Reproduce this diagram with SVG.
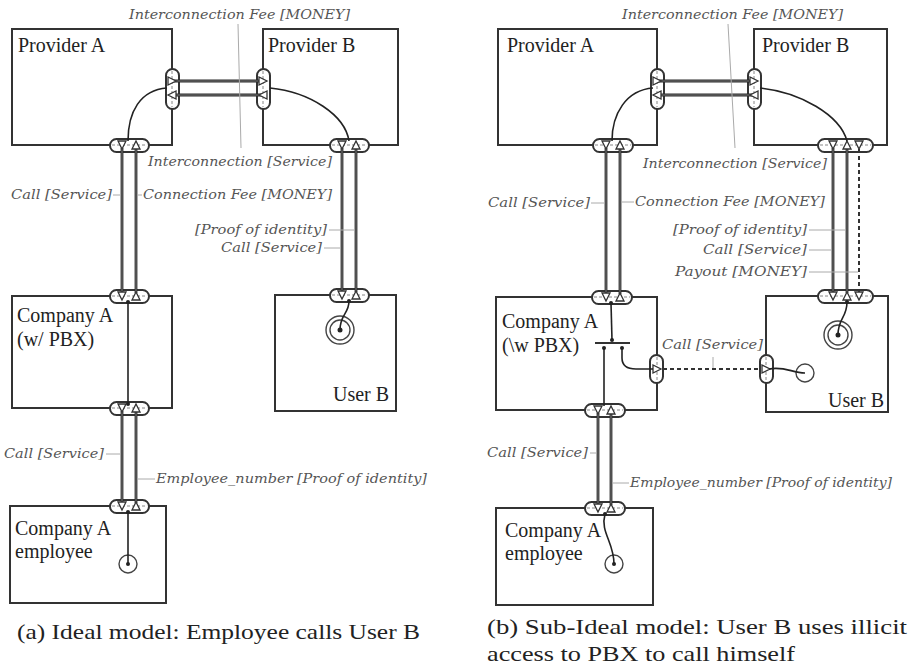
<svg xmlns="http://www.w3.org/2000/svg" xmlns:xlink="http://www.w3.org/1999/xlink" width="909" height="668" viewBox="0 0 909 668">
<style>
.box{fill:#fff;stroke:#333;stroke-width:2}
.pill{fill:#fff;stroke:#333;stroke-width:2}
.edge{stroke:#888;stroke-width:1;stroke-dasharray:3 2;fill:none}
.nt{font-family:"Liberation Serif",serif;font-size:20px;fill:#222}
.lb{font-family:"DejaVu Serif",serif;font-style:italic;font-size:13px;fill:#555}
.cap{font-family:"Liberation Serif",serif;font-size:21px;fill:#222}
.ld{stroke:#aaa;stroke-width:1;fill:none}
.vt{stroke:#2a2a2a;stroke-width:2.8;fill:none}
.vti{stroke:#999;stroke-width:0.7;fill:none}
.vd{stroke:#333;stroke-width:2;stroke-dasharray:4 3;fill:none}
.cn{stroke:#222;stroke-width:1.6;fill:none}
.dot{fill:#222}
.stim{fill:#fff;stroke:#444;stroke-width:1.4}
.tri{fill:#fff;stroke:#333;stroke-width:1.3}
</style>
<defs>
<path id="td" class="tri" d="M-4,-4 L4,-4 L0,4 Z"/>
</defs>

<!-- ===================== (a) ===================== -->
<g id="a-provider-a">
<rect class="box" x="12" y="29" width="160" height="116"/>
<text class="nt" x="18" y="52">Provider A</text>
<rect class="pill" x="166" y="69" width="13" height="40" rx="6.5"/>
<line class="edge" x1="172" y1="71" x2="172" y2="107"/>
<rect class="pill" x="110" y="139" width="39" height="13" rx="6.5"/>
<line class="edge" x1="112" y1="145" x2="147" y2="145"/>
</g>
<g id="a-provider-b">
<rect class="box" x="263" y="29" width="135" height="116"/>
<text class="nt" x="268" y="52">Provider B</text>
<rect class="pill" x="257" y="69" width="13" height="40" rx="6.5"/>
<line class="edge" x1="263" y1="71" x2="263" y2="107"/>
<rect class="pill" x="330" y="139" width="39" height="13" rx="6.5"/>
<line class="edge" x1="332" y1="145" x2="367" y2="145"/>
</g>
<g id="a-company-a">
<rect class="box" x="12" y="296" width="160" height="112"/>
<text class="nt" x="17" y="322">Company A</text>
<text class="nt" x="17" y="346">(w/ PBX)</text>
<rect class="pill" x="110" y="290" width="39" height="13" rx="6.5"/>
<line class="edge" x1="112" y1="296" x2="147" y2="296"/>
<rect class="pill" x="110" y="402" width="39" height="13" rx="6.5"/>
<line class="edge" x1="112" y1="408" x2="147" y2="408"/>
</g>
<g id="a-user-b">
<rect class="box" x="275" y="295" width="121" height="116"/>
<text class="nt" x="333" y="401">User B</text>
<rect class="pill" x="330" y="289" width="39" height="13" rx="6.5"/>
<line class="edge" x1="332" y1="295" x2="367" y2="295"/>
<circle class="stim" cx="340" cy="330" r="14"/>
<circle class="stim" cx="340" cy="330" r="10"/>
</g>
<g id="a-employee">
<rect class="box" x="10" y="506" width="156" height="97"/>
<text class="nt" x="15" y="535">Company A</text>
<text class="nt" x="15" y="558">employee</text>
<rect class="pill" x="110" y="500" width="39" height="13" rx="6.5"/>
<line class="edge" x1="112" y1="506" x2="147" y2="506"/>
<circle class="stim" cx="128" cy="564" r="9"/>
</g>

<g id="a-connectors">
<path class="vt" d="M172,81 H262 M172,95 H262 M122,148 V293 M136,148 V293 M342,148 V292 M356,148 V292 M122,411 V503 M136,411 V503"/>
<path class="vti" d="M172,81 H262 M172,95 H262 M122,148 V293 M136,148 V293 M342,148 V292 M356,148 V292 M122,411 V503 M136,411 V503"/>
<use href="#td" xlink:href="#td" transform="translate(172,81) rotate(-90)"/>
<use href="#td" xlink:href="#td" transform="translate(263,81) rotate(-90)"/>
<use href="#td" xlink:href="#td" transform="translate(172,95) rotate(90)"/>
<use href="#td" xlink:href="#td" transform="translate(263,95) rotate(90)"/>
<use href="#td" xlink:href="#td" transform="translate(122,145)"/>
<use href="#td" xlink:href="#td" transform="translate(136,145) rotate(180)"/>
<use href="#td" xlink:href="#td" transform="translate(122,296)"/>
<use href="#td" xlink:href="#td" transform="translate(136,296) rotate(180)"/>
<use href="#td" xlink:href="#td" transform="translate(342,145)"/>
<use href="#td" xlink:href="#td" transform="translate(356,145) rotate(180)"/>
<use href="#td" xlink:href="#td" transform="translate(342,295)"/>
<use href="#td" xlink:href="#td" transform="translate(356,295) rotate(180)"/>
<use href="#td" xlink:href="#td" transform="translate(122,408)"/>
<use href="#td" xlink:href="#td" transform="translate(136,408) rotate(180)"/>
<use href="#td" xlink:href="#td" transform="translate(122,506)"/>
<use href="#td" xlink:href="#td" transform="translate(136,506) rotate(180)"/>
<path class="cn" d="M167,88 C140,90 128,112 128,141"/>
<path class="cn" d="M270,88 C310,92 345,115 349,141"/>
<path class="cn" d="M128,302 V404"/>
<circle class="dot" cx="128" cy="302" r="2"/>
<circle class="dot" cx="128" cy="404" r="2"/>
<path class="cn" d="M349,301 C349,314 340,314 340,330"/>
<circle class="dot" cx="349" cy="301" r="2"/>
<circle class="dot" cx="340" cy="330" r="2.5"/>
<path class="cn" d="M128,512 V564"/>
<circle class="dot" cx="128" cy="512" r="2"/>
<circle class="dot" cx="128" cy="564" r="2"/>
<path class="ld" d="M238,24 L241,148 M113,195 H121 M137,195 H142 M329,230 H355 M324,248 H341 M106,454 H121 M137,479 H155"/>
</g>

<g id="a-labels">
<text class="lb" x="129" y="19" textLength="221" lengthAdjust="spacingAndGlyphs">Interconnection Fee [MONEY]</text>
<text class="lb" x="148" y="166" textLength="184" lengthAdjust="spacingAndGlyphs">Interconnection [Service]</text>
<text class="lb" x="11" y="199" textLength="101" lengthAdjust="spacingAndGlyphs">Call [Service]</text>
<text class="lb" x="143" y="199" textLength="189" lengthAdjust="spacingAndGlyphs">Connection Fee [MONEY]</text>
<text class="lb" x="195" y="234" textLength="132" lengthAdjust="spacingAndGlyphs">[Proof of identity]</text>
<text class="lb" x="221" y="252" textLength="101" lengthAdjust="spacingAndGlyphs">Call [Service]</text>
<text class="lb" x="4" y="458" textLength="100" lengthAdjust="spacingAndGlyphs">Call [Service]</text>
<text class="lb" x="156" y="483" textLength="271" lengthAdjust="spacingAndGlyphs">Employee_number [Proof of identity]</text>
</g>
<text class="cap" x="17" y="639" textLength="403" lengthAdjust="spacingAndGlyphs">(a) Ideal model: Employee calls User B</text>

<!-- ===================== (b) ===================== -->
<g id="b-provider-a">
<rect class="box" x="498" y="29" width="159" height="116"/>
<text class="nt" x="507" y="52">Provider A</text>
<rect class="pill" x="651" y="69" width="13" height="40" rx="6.5"/>
<line class="edge" x1="657" y1="71" x2="657" y2="107"/>
<rect class="pill" x="593" y="139" width="40" height="13" rx="6.5"/>
<line class="edge" x1="595" y1="145" x2="631" y2="145"/>
</g>
<g id="b-provider-b">
<rect class="box" x="754" y="29" width="133" height="116"/>
<text class="nt" x="762" y="52">Provider B</text>
<rect class="pill" x="748" y="69" width="13" height="40" rx="6.5"/>
<line class="edge" x1="754" y1="71" x2="754" y2="107"/>
<rect class="pill" x="818" y="139" width="55" height="13" rx="6.5"/>
<line class="edge" x1="820" y1="145" x2="871" y2="145"/>
</g>
<g id="b-company-a">
<rect class="box" x="496" y="297" width="161" height="113"/>
<text class="nt" x="502" y="328">Company A</text>
<text class="nt" x="502" y="352">(\w PBX)</text>
<rect class="pill" x="592" y="291" width="40" height="13" rx="6.5"/>
<line class="edge" x1="594" y1="297" x2="630" y2="297"/>
<rect class="pill" x="650" y="355" width="13" height="28" rx="6.5"/>
<line class="edge" x1="657" y1="357" x2="657" y2="381"/>
<rect class="pill" x="585" y="404" width="40" height="13" rx="6.5"/>
<line class="edge" x1="587" y1="410" x2="623" y2="410"/>
<line x1="595" y1="343" x2="630" y2="343" stroke="#333" stroke-width="2"/>
</g>
<g id="b-user-b">
<rect class="box" x="766" y="296" width="122" height="116"/>
<text class="nt" x="828" y="407">User B</text>
<rect class="pill" x="818" y="290" width="55" height="13" rx="6.5"/>
<line class="edge" x1="820" y1="296" x2="871" y2="296"/>
<rect class="pill" x="760" y="355" width="13" height="28" rx="6.5"/>
<line class="edge" x1="766" y1="357" x2="766" y2="381"/>
<circle class="stim" cx="838" cy="335" r="14"/>
<circle class="stim" cx="838" cy="335" r="10"/>
<circle class="stim" cx="805" cy="373" r="9"/>
</g>
<g id="b-employee">
<rect class="box" x="496" y="508" width="157" height="97"/>
<text class="nt" x="505" y="537">Company A</text>
<text class="nt" x="505" y="560">employee</text>
<rect class="pill" x="585" y="502" width="40" height="13" rx="6.5"/>
<line class="edge" x1="587" y1="508" x2="623" y2="508"/>
<circle class="stim" cx="614" cy="564" r="9"/>
</g>

<g id="b-connectors">
<path class="vt" d="M657,81 H753 M657,95 H753 M606,148 V294 M620,148 V294 M833,148 V293 M847,148 V293 M598,413 V505 M611,413 V505"/>
<path class="vti" d="M657,81 H753 M657,95 H753 M606,148 V294 M620,148 V294 M833,148 V293 M847,148 V293 M598,413 V505 M611,413 V505"/>
<path class="vd" d="M859,149 V292 M663,369 H760"/>
<use href="#td" xlink:href="#td" transform="translate(657,81) rotate(-90)"/>
<use href="#td" xlink:href="#td" transform="translate(754,81) rotate(-90)"/>
<use href="#td" xlink:href="#td" transform="translate(657,95) rotate(90)"/>
<use href="#td" xlink:href="#td" transform="translate(754,95) rotate(90)"/>
<use href="#td" xlink:href="#td" transform="translate(606,145)"/>
<use href="#td" xlink:href="#td" transform="translate(620,145) rotate(180)"/>
<use href="#td" xlink:href="#td" transform="translate(606,297)"/>
<use href="#td" xlink:href="#td" transform="translate(620,297) rotate(180)"/>
<use href="#td" xlink:href="#td" transform="translate(833,145)"/>
<use href="#td" xlink:href="#td" transform="translate(847,145) rotate(180)"/>
<use href="#td" xlink:href="#td" transform="translate(859,145)"/>
<use href="#td" xlink:href="#td" transform="translate(833,296)"/>
<use href="#td" xlink:href="#td" transform="translate(847,296) rotate(180)"/>
<use href="#td" xlink:href="#td" transform="translate(859,296)"/>
<use href="#td" xlink:href="#td" transform="translate(657,369) rotate(-90)"/>
<use href="#td" xlink:href="#td" transform="translate(766,369) rotate(-90)"/>
<use href="#td" xlink:href="#td" transform="translate(598,410)"/>
<use href="#td" xlink:href="#td" transform="translate(611,410) rotate(180)"/>
<use href="#td" xlink:href="#td" transform="translate(598,508)"/>
<use href="#td" xlink:href="#td" transform="translate(611,508) rotate(180)"/>
<path class="cn" d="M653,88 C626,90 612,114 612,141"/>
<path class="cn" d="M760,88 C800,92 840,115 847,141"/>
<path class="cn" d="M611,303 L612,340"/>
<circle class="dot" cx="611" cy="303" r="2"/>
<circle class="dot" cx="612" cy="340" r="2"/>
<path class="cn" d="M604,348 V406"/>
<circle class="dot" cx="604" cy="348" r="2"/>
<path class="cn" d="M622,348 V358 C622,366 628,369 636,369 H653"/>
<circle class="dot" cx="622" cy="348" r="2"/>
<path class="cn" d="M847,302 C847,318 838,318 838,335"/>
<circle class="dot" cx="847" cy="302" r="2"/>
<circle class="dot" cx="838" cy="335" r="2.5"/>
<path class="cn" d="M769,369 C785,366 792,373 805,373"/>
<path class="cn" d="M605,514 C600,532 614,542 614,564"/>
<circle class="dot" cx="605" cy="514" r="2"/>
<circle class="dot" cx="614" cy="564" r="2"/>
<path class="ld" d="M728,24 L735,148 M591,203 H605 M621,202 H634 M809,230 H846 M809,250 H832 M809,272 H858 M713,357 V368 M590,453 H597 M612,483 H629"/>
</g>

<g id="b-labels">
<text class="lb" x="622" y="19" textLength="221" lengthAdjust="spacingAndGlyphs">Interconnection Fee [MONEY]</text>
<text class="lb" x="643" y="168" textLength="184" lengthAdjust="spacingAndGlyphs">Interconnection [Service]</text>
<text class="lb" x="488" y="207" textLength="102" lengthAdjust="spacingAndGlyphs">Call [Service]</text>
<text class="lb" x="635" y="206" textLength="190" lengthAdjust="spacingAndGlyphs">Connection Fee [MONEY]</text>
<text class="lb" x="673" y="234" textLength="134" lengthAdjust="spacingAndGlyphs">[Proof of identity]</text>
<text class="lb" x="703" y="254" textLength="104" lengthAdjust="spacingAndGlyphs">Call [Service]</text>
<text class="lb" x="675" y="276" textLength="132" lengthAdjust="spacingAndGlyphs">Payout [MONEY]</text>
<text class="lb" x="662" y="349" textLength="101" lengthAdjust="spacingAndGlyphs">Call [Service]</text>
<text class="lb" x="487" y="457" textLength="101" lengthAdjust="spacingAndGlyphs">Call [Service]</text>
<text class="lb" x="630" y="487" textLength="262" lengthAdjust="spacingAndGlyphs">Employee_number [Proof of identity]</text>
</g>
<text class="cap" x="487" y="634" textLength="420" lengthAdjust="spacingAndGlyphs">(b) Sub-Ideal model: User B uses illicit</text>
<text class="cap" x="487" y="661" textLength="308" lengthAdjust="spacingAndGlyphs">access to PBX to call himself</text>
</svg>
